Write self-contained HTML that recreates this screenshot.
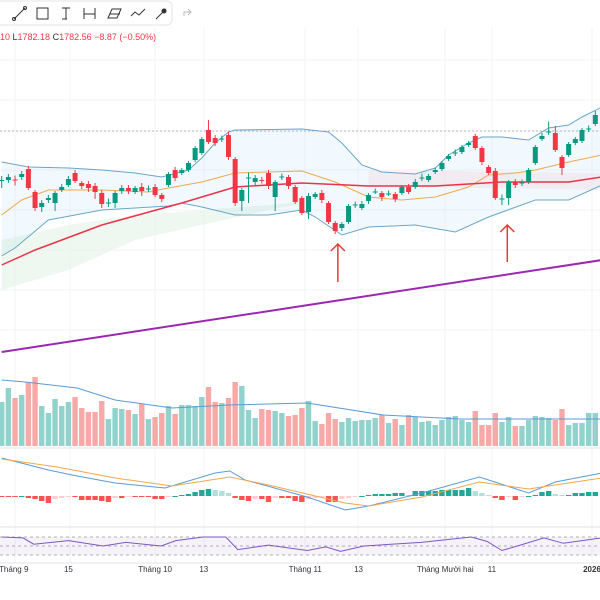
<!DOCTYPE html>
<html><head><meta charset="utf-8"><style>
body{margin:0;width:600px;height:600px;overflow:hidden;background:#fff;font-family:"Liberation Sans","Noto Sans CJK SC",sans-serif;}
svg{position:absolute;left:0;top:0}
</style></head><body>
<svg id="c" width="600" height="600">
  <rect x="0" y="0" width="600" height="600" fill="#fff"/>
  <g id="grid"></g>
  <g id="main"></g>
  <g id="vol"></g>
  <g id="macd"></g>
  <g id="rsi"></g>
  <g id="axis"></g>
  <g>
    <rect x="-10" y="1" width="182" height="24" rx="5" fill="#fff" stroke="#e6e6e6"/>
    <g stroke="#333" stroke-width="1" fill="none">
      <g><line x1="14" y1="19" x2="25" y2="8"/><circle cx="14" cy="19" r="1.5"/><circle cx="25" cy="8" r="1.5"/></g>
      <g><rect x="37" y="8" width="11" height="11"/></g>
      <g><path d="M62 8h8M66 8v11M62 19h5"/></g>
      <g><path d="M84 8v11M84 14h11M95 8v11"/></g>
      <g><path d="M108 18l4-9h9l-4 9zM110 14h10"/></g>
      <g><path d="M131 16l4-4 4 3 6-6"/></g>
      <g><line x1="156" y1="19" x2="166" y2="9"/><circle cx="164" cy="11" r="2" fill="#333"/></g>
    </g>
    <path d="M184 16v-4h7M188 9l3 3-3 3" stroke="#bbb" fill="none"/>
  </g>
  <text x="0" y="40" font-size="9" fill="#f23645">10 <tspan fill="#333">L</tspan>1782.18 <tspan fill="#333">C</tspan>1782.56 −8.87 (−0.50%)</text>
</svg>
<script>
// ===== DATA =====
const opens  = [1678,1680,1681,1686,1702,1656,1626,1640,1634,1660,1670,1694,1674,1672,1668,1654,1634,1634,1658,1664,1656,1666,1662,1666,1650,1670,1700,1694,1700,1720,1734,1780,1764,1762,1770,1722,1638,1684,1676,1680,1694,1646,1686,1686,1666,1644,1616,1646,1654,1634,1594,1584,1596,1630,1624,1638,1656,1654,1652,1652,1654,1666,1666,1684,1680,1696,1702,1722,1734,1736,1750,1768,1744,1706,1698,1642,1644,1676,1674,1676,1714,1762,1776,1774,1726,1730,1754,1758,1782,1792];
const closes = [1680,1686,1679,1692,1664,1624,1634,1644,1654,1666,1682,1678,1668,1664,1656,1632,1635,1654,1664,1658,1664,1658,1663,1650,1642,1692,1684,1700,1714,1744,1762,1756,1754,1763,1726,1634,1660,1685,1684,1679,1668,1676,1687,1668,1636,1614,1648,1652,1640,1596,1578,1592,1628,1631,1632,1650,1657,1646,1653,1642,1666,1656,1676,1685,1688,1700,1714,1728,1735,1746,1754,1744,1716,1694,1644,1643,1676,1670,1675,1700,1746,1768,1777,1740,1704,1752,1762,1780,1783,1810];
const wickUp = [8,6,8,6,6,4,6,6,4,6,6,6,4,6,6,6,8,4,6,6,4,8,6,6,4,4,6,4,4,4,4,20,6,6,6,4,4,10,6,6,6,4,6,4,4,4,6,4,6,4,4,4,4,6,6,4,6,4,6,4,4,6,6,8,4,4,4,4,6,4,4,4,4,4,6,8,4,6,6,4,4,6,20,14,4,4,4,4,6,8];
const wickDn = [14,6,10,6,4,6,10,6,16,4,4,4,6,8,14,8,8,10,6,6,4,10,6,4,6,4,6,4,4,4,4,4,6,6,6,6,20,50,6,6,6,28,6,6,4,4,14,4,6,4,6,6,4,6,4,6,4,8,4,6,4,4,4,6,4,4,4,4,6,4,4,4,6,4,4,12,14,6,6,4,4,4,6,4,14,4,4,4,6,4];
const volumes = [44,58,48,51,64,69,40,33,47,40,44,49,38,34,34,45,27,38,37,36,32,42,27,29,33,40,32,41,41,40,49,59,44,43,48,64,60,36,28,37,36,35,33,30,31,38,45,25,22,33,27,24,28,25,26,26,28,31,23,27,21,31,29,24,25,21,26,29,30,26,24,35,21,21,33,24,29,20,20,26,30,29,28,26,37,21,23,23,33,33];
const hist = [-1,-1,-1,0,-2,-3,-5,-7,-3,-2,-1,-1,-4,-4,-4,-5,-6,-2,-2,-1,-1,-1,-1,-3,-3,-1,0,1,2,4,6,7,6,5,3,-2,-4,-5,-3,-3,-6,-2,-2,-2,-5,-6,-3,-2,-1,-6,-6,-3,-2,-1,0,1,2,2,2,3,3,1,5,5,5,5,6,6,6,6,8,5,3,1,-2,-4,-1,-4,-1,0,1,4,5,2,1,1,3,3,4,4];
const upperIdx = [0,4,10,15,20,24,28,30,32,34,35,45,49,51,54,57,62,65,67,70,72,75,79,82,85,87,90];
const upperVal = [1716,1706,1704,1700,1694,1686,1700,1724,1754,1776,1780,1782,1776,1754,1710,1696,1692,1704,1730,1754,1766,1766,1760,1784,1790,1806,1826];
const lowerIdx = [0,2,7,15,25,27,30,35,40,45,47,51,55,62,68,73,80,85,90];
const lowerVal = [1528,1544,1600,1620,1628,1634,1626,1610,1610,1620,1606,1570,1586,1590,1576,1606,1640,1640,1670];
const maFastIdx = [0,3,7,15,22,25,30,35,40,45,50,55,60,65,70,73,77,80,85,90];
const maFastVal = [1610,1640,1660,1660,1656,1664,1676,1694,1696,1698,1676,1646,1640,1646,1666,1690,1694,1700,1716,1730];
const maSlowIdx = [0,5,15,27,35,45,55,65,75,85,90];
const maSlowVal = [1510,1540,1590,1634,1666,1674,1668,1668,1676,1676,1686];
const maLongIdx = [0,45,90];
const maLongVal = [1336,1428,1520];
const cloudTopIdx = [0,10,20,30,40,48];
const cloudTopVal = [1560,1590,1610,1620,1630,1640];
const cloudBotIdx = [48,40,30,20,10,0];
const cloudBotVal = [1640,1620,1590,1560,1500,1460];
const arrowIdx = [50.4,75.8];
const arrowBase = [1476,1516];
const arrowTip = [1552,1590];
const volMaIdx = [0,3.5,11.3,17,25.5,34.2,45.8,57.2,68.7,90];
const volMaVal = [66,64,58,46,38,41,43,31,27,27];
const macdIdx = [0,7,11.3,17,24.5,32,34.2,36.5,45.8,51.5,55,63,71.6,74.4,79,83,90];
const macdVal = [38,26,20,13,8,23,25,16,-1,-14,-10,3,19,13,3,14,23];
const sigIdx = [0,8.3,17,25.5,34.2,40,51.5,55,63,71.6,79,90];
const sigVal = [37,29,18,10,19,11,-7,-10,-1,14,7,18];
const rsiIdx = [0,3.2,4.8,10,15.2,18.6,23.9,26.1,30.2,33.6,35.4,40,45.8,48.6,50.8,54.3,62.9,70.4,72.8,75,77.3,81.3,84.2,90];
const rsiVal = [70,68,54,62,50,58,50,62,70,70,42,52,40,48,38,50,58,70,60,40,50,68,56,68];
const dateLabels = ["Tháng 9","15","Tháng 10","13","Tháng 11","13","Tháng Mười hai","11","2026"];
const dateIdx = [1.8,10,23,30.3,45.5,53.5,66.5,73.5,88.5];

// ===== SCALES =====
const NS="http://www.w3.org/2000/svg";
const xS=i=>1.7+i*6.67;
const yP=p=>(2040-p)/2;
const yV=v=>446-v;
const yM=v=>496-v;
const yMh=v=>496-v;
const yR=v=>555-(v-30)/40*18;
function mk(parent,tag,attrs){const e=document.createElementNS(NS,tag);for(const k in attrs)e.setAttribute(k,attrs[k]);document.getElementById(parent).appendChild(e);return e;}
function pathOf(ix,vals,yf){return ix.map((i,k)=>(k?'L':'M')+xS(i).toFixed(1)+' '+yf(vals[k]).toFixed(1)).join(' ');}

// grid
[15,70,155,204,305,358,445,492,592].forEach((x,k)=>{const l=mk('grid','line',{x1:x,y1:28,x2:x,y2:563,stroke:'#f2f3f5'});

});
[60,100,131,170,210,250,290,330].forEach(y=>{const l=mk('grid','line',{x1:0,y1:y,x2:600,y2:y,stroke:'#f2f3f5'});

});

// cloud
let cp=pathOf(cloudTopIdx,cloudTopVal,yP)+' '+pathOf(cloudBotIdx,cloudBotVal,yP).replace('M','L')+'Z';
let cl=mk('main','path',{d:cp,fill:'#e8f5e9',opacity:0.7});


let cl2=mk('main','path',{d:'M'+xS(55)+' '+yP(1700)+' L'+xS(90)+' '+yP(1694)+' L'+xS(90)+' '+yP(1660)+' L'+xS(55)+' '+yP(1668)+'Z',fill:'#fdecec',opacity:0.7});



// bollinger fill
let bf=pathOf(upperIdx,upperVal,yP)+' '+pathOf(lowerIdx.slice().reverse(),lowerVal.slice().reverse(),yP).replace('M','L')+'Z';
let bfe=mk('main','path',{d:bf,fill:'#2196f3',opacity:0.06});


let dl=mk('main','line',{x1:0,y1:131,x2:600,y2:131,stroke:'#b2b5be','stroke-dasharray':'2 2'});



let lu=mk('main','path',{d:pathOf(upperIdx,upperVal,yP),fill:'none',stroke:'#6aa6c8','stroke-width':1});


let ll=mk('main','path',{d:pathOf(lowerIdx,lowerVal,yP),fill:'none',stroke:'#6aa6c8','stroke-width':1});


let lf=mk('main','path',{d:pathOf(maFastIdx,maFastVal,yP),fill:'none',stroke:'#f0a84c','stroke-width':1});


let ls=mk('main','path',{d:pathOf(maSlowIdx,maSlowVal,yP),fill:'none',stroke:'#e8344a','stroke-width':1.5});


let lg=mk('main','path',{d:pathOf(maLongIdx,maLongVal,yP),fill:'none',stroke:'#9c27b0','stroke-width':2});



// candles
for(let i=0;i<opens.length;i++){
  const o=opens[i],c=closes[i],up=c>=o,col=up?'#089981':'#f23645';
  const hi=Math.max(o,c)+wickUp[i],lo=Math.min(o,c)-wickDn[i],x=xS(i);
  const w=mk('main','line',{x1:x,y1:yP(hi),x2:x,y2:yP(lo),stroke:col,'stroke-width':1});
  
  
  const t=yP(Math.max(o,c)),b=yP(Math.min(o,c));
  const r=mk('main','rect',{x:x-2.5,y:t,width:5,height:Math.max(1,b-t),fill:col});
  
  
}
// arrows
arrowIdx.forEach((ai,k)=>{const x=xS(ai),yb=yP(arrowBase[k]),yt=yP(arrowTip[k]);
const g=mk('main','path',{d:`M${x} ${yb}V${yt}M${x-7} ${yt+7}L${x} ${yt}L${x+7} ${yt+7}`,stroke:'#e53935','stroke-width':1.5,fill:'none'});

});

// volume
for(let i=0;i<volumes.length;i++){const up=closes[i]>=opens[i];
const r=mk('vol','rect',{x:xS(i)-2.7,y:yV(volumes[i]),width:5.4,height:volumes[i],fill:up?'#92d2cc':'#f7a9a7'});

}
let vm=mk('vol','path',{d:pathOf(volMaIdx,volMaVal,yV),fill:'none',stroke:'#5b9bd5','stroke-width':1});



// macd
for(let i=0;i<hist.length;i++){const v=hist[i],p=i?hist[i-1]:0;
let col=v>=0?(v>=p?'#26a69a':'#b2dfdb'):(v<=p?'#ff5252':'#ffcdd2');
const r=mk('macd','rect',{x:xS(i)-2.7,y:Math.min(yMh(v),496),width:5.4,height:Math.max(1,Math.abs(v)),fill:col});

}
let mm=mk('macd','path',{d:pathOf(macdIdx,macdVal,yM),fill:'none',stroke:'#5b9bd5','stroke-width':1});


let ms=mk('macd','path',{d:pathOf(sigIdx,sigVal,yM),fill:'none',stroke:'#f0a84c','stroke-width':1});



// rsi
let rb=mk('rsi','rect',{x:0,y:yR(70),width:600,height:yR(30)-yR(70),fill:'#7e57c2',opacity:0.08});


[70,50,30].forEach(v=>{const l=mk('rsi','line',{x1:0,y1:yR(v),x2:600,y2:yR(v),stroke:'#999','stroke-dasharray':'3 3','stroke-width':0.8});

});
let rl=mk('rsi','path',{d:pathOf(rsiIdx,rsiVal,yR),fill:'none',stroke:'#7e57c2','stroke-width':1});



// panes separators and axis
[448,527,563].forEach(y=>{const l=mk('axis','line',{x1:0,y1:y,x2:600,y2:y,stroke:'#e0e3eb'});

});
dateLabels.forEach((t,k)=>{const e=mk('axis','text',{x:xS(dateIdx[k]),y:572,'font-size':8,'text-anchor':'middle',fill:'#333','font-weight':t==='2026'?'bold':'normal'});
e.textContent=t;

});
</script>
</body></html>
